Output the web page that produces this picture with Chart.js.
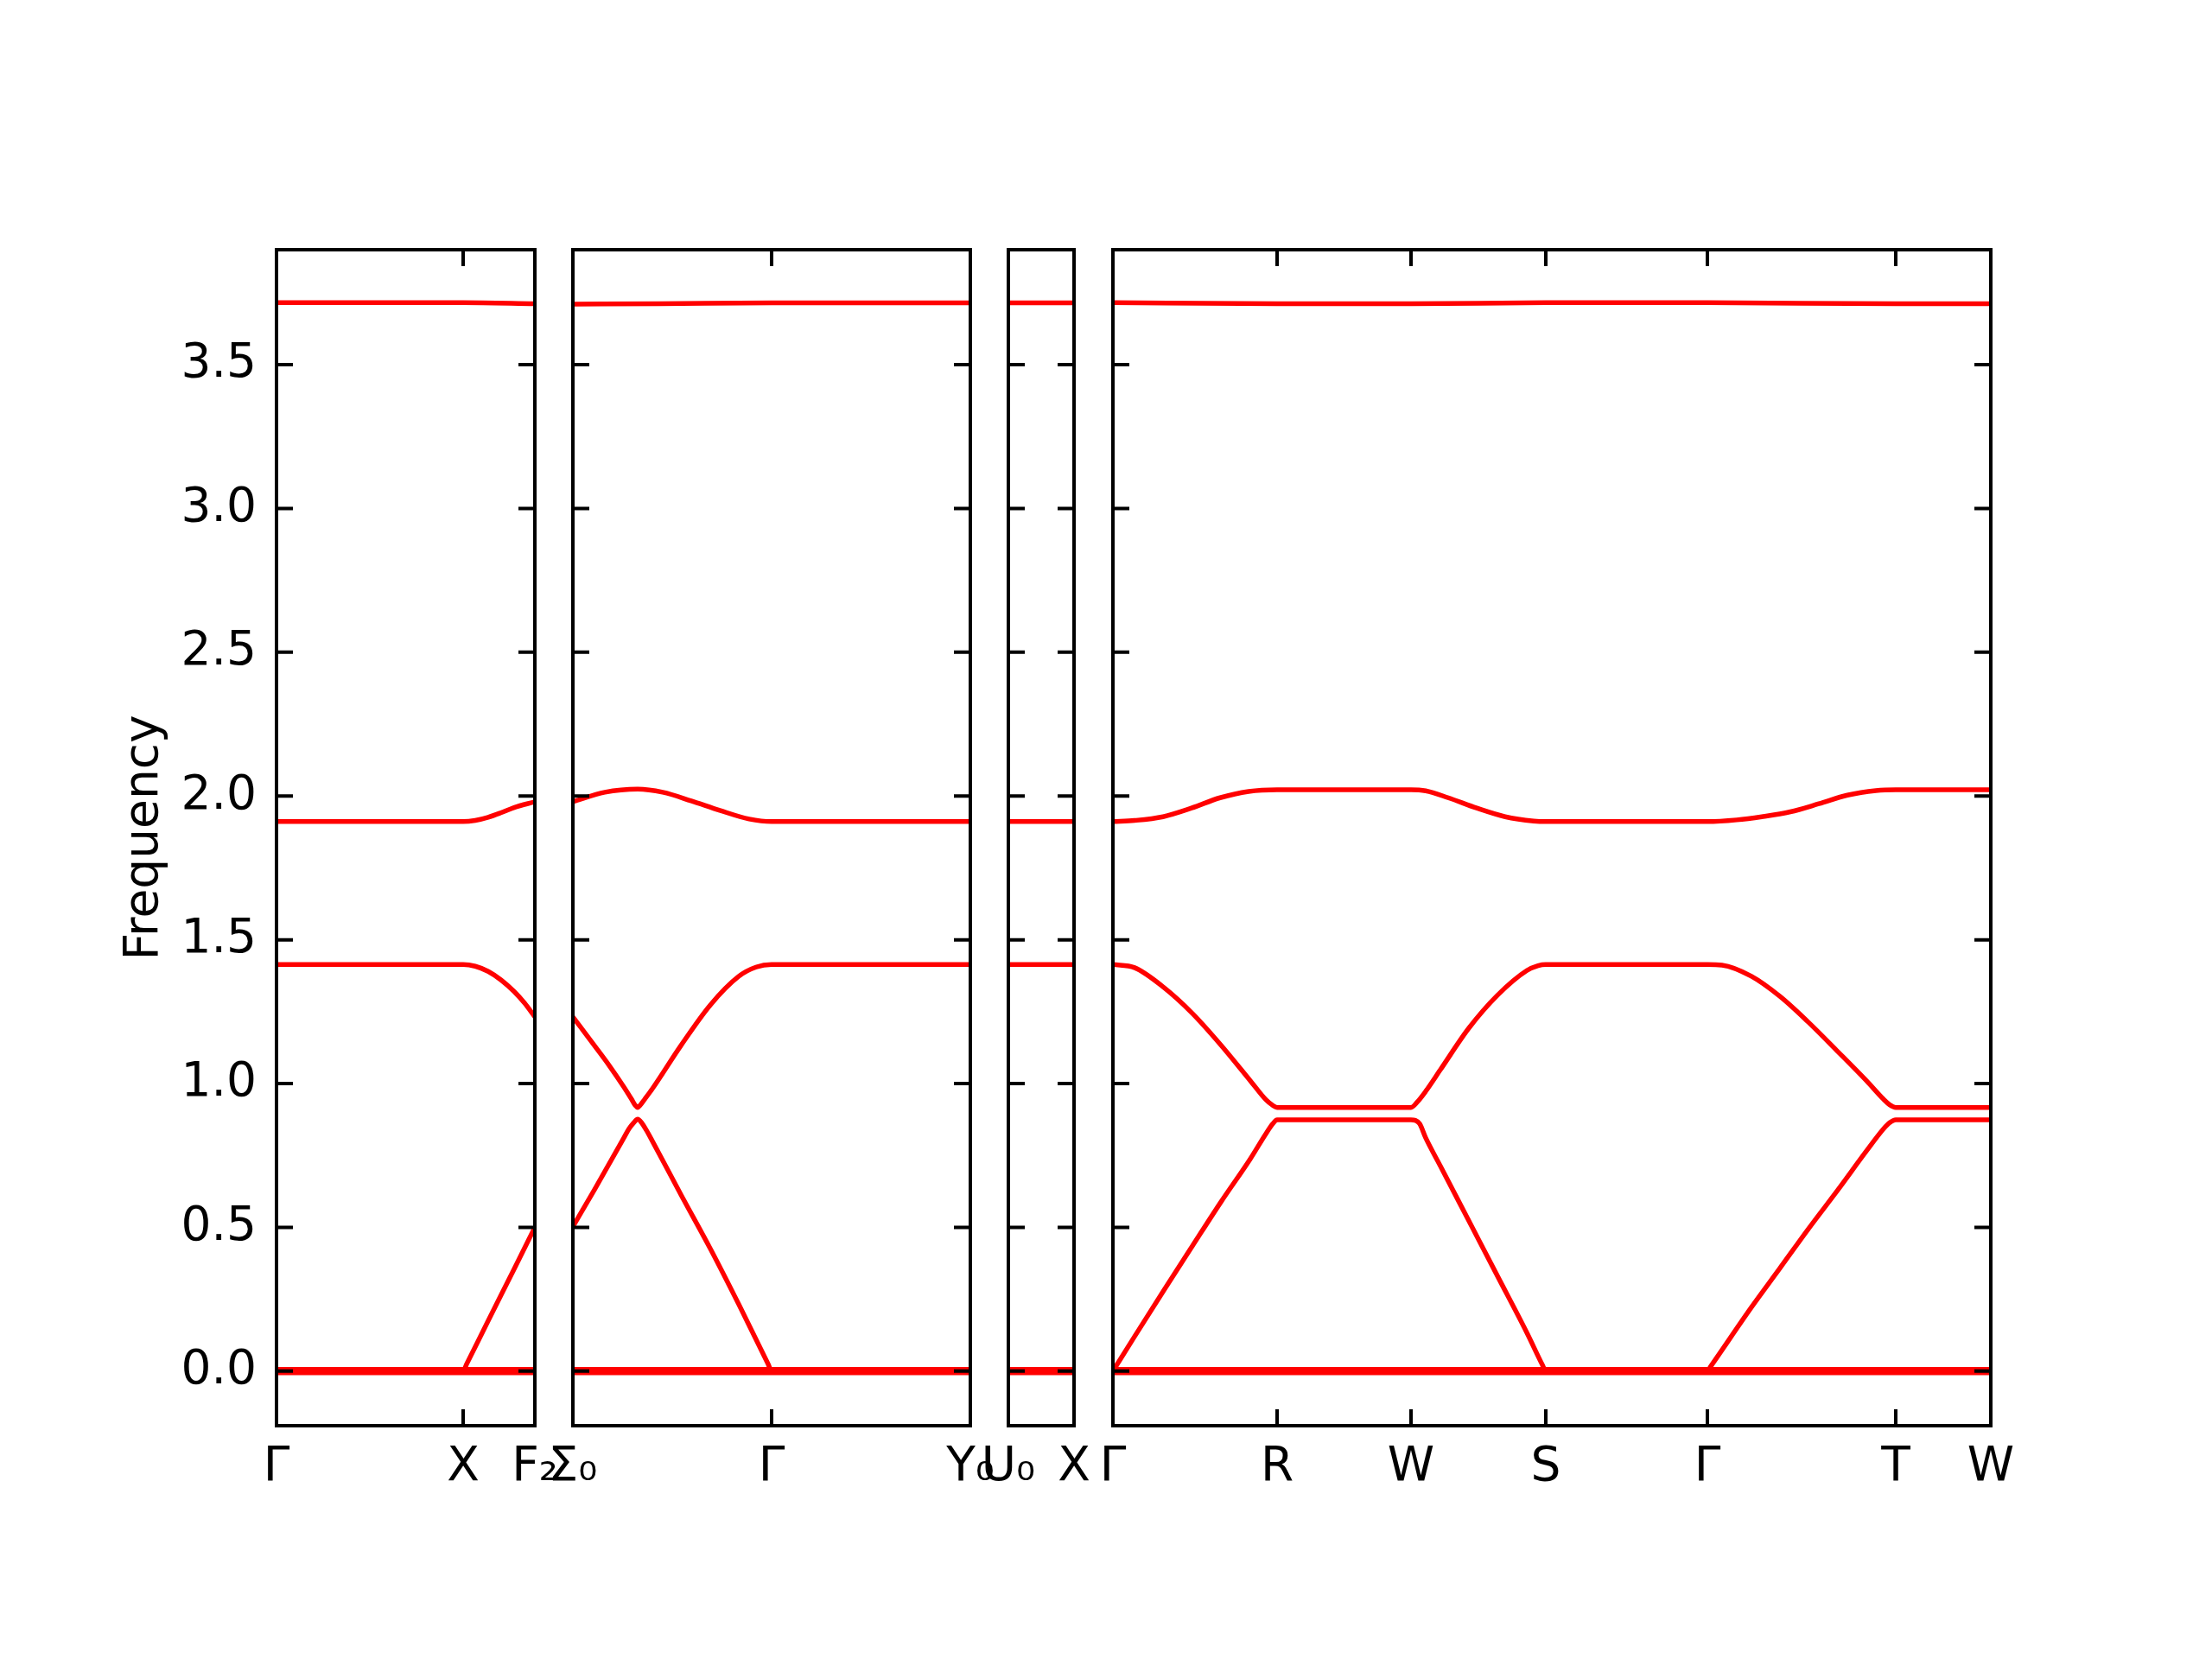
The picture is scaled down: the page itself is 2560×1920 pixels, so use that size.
<!DOCTYPE html>
<html>
<head>
<meta charset="utf-8">
<script src="https://cdn.jsdelivr.net/npm/chart.js@4"></script>
<style>
  body { margin: 0; background: #fff; }
  #fig { position: relative; width: 2560px; height: 1920px; background: #fff; }
  #fig canvas { position: absolute; top: 0; }
</style>
</head>
<body>
<div id="fig"></div>
<script>
// frequency axis
var yMin = -0.19, yMax = 3.9;
var yTicks = [0, 0.5, 1, 1.5, 2, 2.5, 3, 3.5];

// panel 1: Γ - X - F2  (path distance, frequency)
var p1Kpts = [0, 2.16, 2.99];
var p1Labels = ['Γ', 'X', 'F₂'];
var p1Bands = [
  [[0, 0.006], [2.99, 0.006]],
  [[0, -0.006], [2.99, -0.006]],
  [[0, 0], [2.16, 0], [2.20, 0.024], [2.45, 0.175], [2.75, 0.355], [2.99, 0.50]],
  [[0, 1.414], [2.16, 1.414], [2.30, 1.408], [2.45, 1.390], [2.60, 1.360], [2.75, 1.320], [2.87, 1.280], [2.99, 1.232]],
  [[0, 1.911], [2.16, 1.911], [2.30, 1.915], [2.45, 1.926], [2.60, 1.942], [2.75, 1.960], [2.99, 1.980]],
  [[0, 3.716], [2.16, 3.716], [2.99, 3.712]]
];

// panel 2: Σ0 - Γ - Y0
var p2Kpts = [0, 2.30, 4.60];
var p2Labels = ['Σ₀', 'Γ', 'Y₀'];
var p2Bands = [
  [[0, 0.006], [4.60, 0.006]],
  [[0, -0.006], [4.60, -0.006]],
  [[0, 0.502], [0.25, 0.631], [0.59, 0.811], [0.65, 0.843], [0.70, 0.862], [0.75, 0.876], [0.80, 0.862], [0.85, 0.838], [0.92, 0.800],
   [1.25, 0.614], [1.59, 0.426], [1.92, 0.232], [2.26, 0.024], [2.30, 0], [4.60, 0]],
  [[0, 1.232], [0.25, 1.132], [0.42, 1.063], [0.59, 0.988], [0.68, 0.945], [0.72, 0.925], [0.75, 0.917], [0.78, 0.925], [0.83, 0.945],
   [0.92, 0.982], [1.25, 1.132], [1.59, 1.273], [1.92, 1.373], [2.12, 1.405], [2.30, 1.414], [4.60, 1.414]],
  [[0, 1.980], [0.37, 2.013], [0.75, 2.024], [1.04, 2.013], [1.37, 1.983], [1.70, 1.950], [2.04, 1.920], [2.30, 1.911], [4.60, 1.911]],
  [[0, 3.711], [1.00, 3.712], [2.30, 3.715], [4.60, 3.715]]
];

// panel 3: U0 - X
var p3Kpts = [0, 0.76];
var p3Labels = ['U₀', 'X'];
var p3Bands = [
  [[0, 0.006], [0.76, 0.006]],
  [[0, -0.006], [0.76, -0.006]],
  [[0, 1.414], [0.76, 1.414]],
  [[0, 1.911], [0.76, 1.911]],
  [[0, 3.715], [0.76, 3.715]]
];

// panel 4: Γ - R - W - S - Γ - T - W
var p4Kpts = [0, 1.90, 3.45, 5.01, 6.88, 9.06, 10.16];
var p4Labels = ['Γ', 'R', 'W', 'S', 'Γ', 'T', 'W'];
var p4Bands = [
  [[0, 0.006], [10.16, 0.006]],
  [[0, -0.006], [10.16, -0.006]],
  [[0, 0], [0.25, 0.120], [0.59, 0.281], [0.92, 0.435], [1.25, 0.588], [1.59, 0.738], [1.77, 0.825], [1.85, 0.860], [1.90, 0.874],
   [3.45, 0.874], [3.50, 0.872], [3.55, 0.860], [3.62, 0.811], [3.79, 0.713], [4.12, 0.522], [4.45, 0.331], [4.79, 0.134], [4.97, 0.022], [5.01, 0],
   [6.88, 0], [6.92, 0.017], [7.39, 0.222], [7.72, 0.358], [8.05, 0.495], [8.39, 0.630], [8.72, 0.765], [8.92, 0.843], [8.99, 0.864], [9.06, 0.874], [10.16, 0.874]],
  [[0, 1.414], [0.25, 1.403], [0.59, 1.334], [0.92, 1.244], [1.25, 1.134], [1.59, 1.010], [1.77, 0.944], [1.85, 0.924], [1.90, 0.917],
   [3.45, 0.917], [3.52, 0.935], [3.62, 0.973], [3.79, 1.048], [4.12, 1.193], [4.45, 1.307], [4.79, 1.393], [4.92, 1.410], [5.01, 1.414],
   [6.88, 1.414], [7.05, 1.412], [7.39, 1.373], [7.72, 1.303], [8.05, 1.213], [8.39, 1.111], [8.72, 1.010], [8.92, 0.945], [8.99, 0.926], [9.06, 0.917], [10.16, 0.917]],
  [[0, 1.911], [0.25, 1.915], [0.58, 1.928], [0.91, 1.958], [1.24, 1.994], [1.57, 2.016], [1.90, 2.022],
   [3.45, 2.022], [3.62, 2.018], [3.88, 1.994], [4.21, 1.958], [4.54, 1.928], [4.87, 1.913], [5.01, 1.911],
   [6.88, 1.911], [7.22, 1.917], [7.51, 1.928], [7.84, 1.945], [8.17, 1.973], [8.50, 2.003], [8.83, 2.019], [9.06, 2.022], [10.16, 2.022]],
  [[0, 3.716], [1.90, 3.712], [3.45, 3.712], [5.01, 3.716], [6.88, 3.716], [9.06, 3.712], [10.16, 3.712]]
];

// page layout (pixels)
var boxes = [
  {left: 320, right: 619},
  {left: 663, right: 1123},
  {left: 1167, right: 1243},
  {left: 1288, right: 2304}
];
var TOP = 289, BOTTOM = 1650, MARGIN = 60, YAXIS_W = 200, XAXIS_H = 150, TICK = 19;
var RED = '#ff0000';

Chart.defaults.font.family = "'DejaVu Sans'";
Chart.defaults.font.size = 55;
Chart.defaults.color = '#000';

// box around each panel with inward ticks on all four sides
function frame(kpts) {
  return {
    id: 'frame',
    afterDatasetsDraw: function(chart) {
      var ctx = chart.ctx, a = chart.chartArea;
      var x = chart.scales.x, y = chart.scales.y;
      ctx.save();
      ctx.strokeStyle = '#000';
      ctx.lineWidth = 4;
      ctx.lineJoin = 'miter';
      ctx.beginPath();
      yTicks.forEach(function(v) {
        var py = y.getPixelForValue(v);
        ctx.moveTo(a.left, py); ctx.lineTo(a.left + TICK, py);
        ctx.moveTo(a.right, py); ctx.lineTo(a.right - TICK, py);
      });
      kpts.forEach(function(v) {
        var px = x.getPixelForValue(v);
        ctx.moveTo(px, a.bottom); ctx.lineTo(px, a.bottom - TICK);
        ctx.moveTo(px, a.top); ctx.lineTo(px, a.top + TICK);
      });
      ctx.stroke();
      ctx.strokeRect(a.left, a.top, a.right - a.left, a.bottom - a.top);
      ctx.restore();
    }
  };
}

function makePanel(i, kpts, labels, bands) {
  var box = boxes[i];
  var first = i === 0;
  var cvLeft = first ? 0 : box.left - MARGIN;
  var cv = document.createElement('canvas');
  cv.width = box.right + MARGIN - cvLeft;
  cv.height = 1920;
  cv.style.left = cvLeft + 'px';
  document.getElementById('fig').appendChild(cv);
  var yW = first ? YAXIS_W : 0;

  new Chart(cv, {
    type: 'line',
    data: {
      datasets: bands.map(function(b) {
        return {
          data: b.map(function(p) { return {x: p[0], y: p[1]}; }),
          borderColor: RED,
          borderWidth: 5.5,
          borderJoinStyle: 'round',
          cubicInterpolationMode: 'monotone',
          pointRadius: 0,
          fill: false
        };
      })
    },
    options: {
      responsive: false,
      animation: false,
      devicePixelRatio: 1,
      events: [],
      layout: {
        padding: {left: box.left - cvLeft - yW, right: MARGIN, top: TOP, bottom: 1920 - BOTTOM - XAXIS_H}
      },
      plugins: {legend: {display: false}, tooltip: {enabled: false}},
      scales: {
        x: {
          type: 'linear',
          min: kpts[0],
          max: kpts[kpts.length - 1],
          afterBuildTicks: function(s) { s.ticks = kpts.map(function(v) { return {value: v}; }); },
          afterFit: function(s) { s.height = XAXIS_H; s.paddingLeft = 0; s.paddingRight = 0; },
          grid: {display: false},
          border: {display: false},
          ticks: {
            autoSkip: false, maxRotation: 0, minRotation: 0, padding: 8,
            callback: function(v, idx) { return labels[idx]; }
          }
        },
        y: {
          type: 'linear',
          display: first,
          min: yMin,
          max: yMax,
          afterBuildTicks: function(s) { s.ticks = yTicks.map(function(v) { return {value: v}; }); },
          afterFit: function(s) { if (first) { s.width = YAXIS_W; } s.paddingTop = 0; s.paddingBottom = 0; },
          grid: {display: false},
          border: {display: false},
          ticks: {padding: 15, callback: function(v) { return v.toFixed(1); }},
          title: {display: first, text: 'Frequency', padding: {top: 15, bottom: 0}}
        }
      }
    },
    plugins: [frame(kpts)]
  });
}

makePanel(0, p1Kpts, p1Labels, p1Bands);
makePanel(1, p2Kpts, p2Labels, p2Bands);
makePanel(2, p3Kpts, p3Labels, p3Bands);
makePanel(3, p4Kpts, p4Labels, p4Bands);
</script>
</body>
</html>
